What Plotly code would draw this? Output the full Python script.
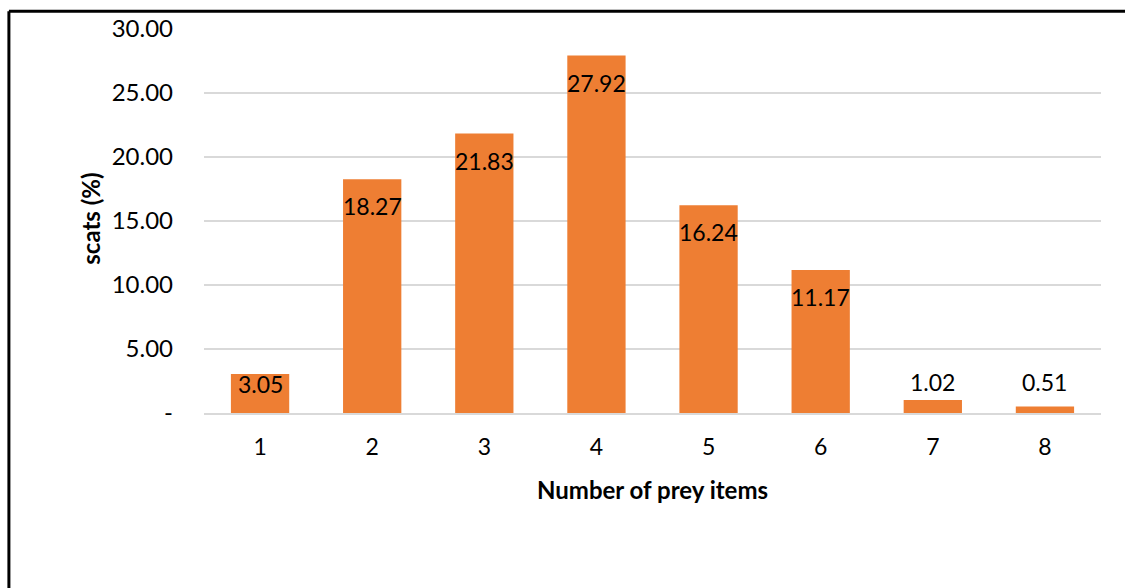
import plotly.graph_objects as go

# Share of scats by number of prey items found
prey_items = ["1", "2", "3", "4", "5", "6", "7", "8"]
scats_pct = [3.05, 18.27, 21.83, 27.92, 16.24, 11.17, 1.02, 0.51]
y_ticks = [0, 5, 10, 15, 20, 25, 30]
y_tick_labels = ["-", "5.00", "10.00", "15.00", "20.00", "25.00", "30.00"]

FONT = "Lato"
BAR = "#EE7E33"

fig = go.Figure(
    go.Bar(
        x=prey_items,
        y=scats_pct,
        marker=dict(color=BAR, line=dict(width=0)),
        hoverinfo="skip",
    )
)

# value labels: inside the top of tall bars, kept inside short bars,
# placed just above the very short ones
for i, val in enumerate(scats_pct):
    if val >= 5:
        anchor, shift = "top", -11
    elif val >= 2:
        anchor, shift = "top", 6
    else:
        anchor, shift = "bottom", 2 if val >= 1 else 8
    fig.add_annotation(
        x=i, y=val, xref="x", yref="y",
        text=f"{val:.2f}",
        showarrow=False,
        yanchor=anchor, yshift=shift,
        font=dict(family=FONT, size=23, color="#000000"),
    )

# axis titles
fig.add_annotation(
    x=-0.1275, y=0.505, xref="paper", yref="paper",
    xanchor="center", yanchor="middle",
    text="<b>scats (%)</b>", textangle=-90, showarrow=False,
    font=dict(family=FONT, size=24, color="#000000"),
)
fig.add_annotation(
    x=0.5, y=-0.198, xref="paper", yref="paper",
    xanchor="center", yanchor="middle",
    text="<b>Number of prey items</b>", showarrow=False,
    font=dict(family=FONT, size=24, color="#000000"),
)

# outer frame (left and top edges)
fig.add_shape(type="line", xref="paper", yref="paper",
              x0=-0.2175, x1=-0.2175, y0=-0.6, y1=1.046,
              line=dict(color="#000000", width=3))
fig.add_shape(type="line", xref="paper", yref="paper",
              x0=-0.2175, x1=1.1, y0=1.046, y1=1.046,
              line=dict(color="#000000", width=3))

fig.update_layout(
    width=1125, height=588,
    margin=dict(l=204, r=24, t=29, b=175),
    paper_bgcolor="#FFFFFF", plot_bgcolor="#FFFFFF",
    bargap=0.48,
    showlegend=False,
    font=dict(family=FONT, size=20, color="#000000"),
    xaxis=dict(
        type="category", range=[-0.5, 7.5],
        showgrid=False, showline=True, linecolor="#D9D9D9", linewidth=2,
        ticks="", ticklabelstandoff=12,
        tickfont=dict(family=FONT, size=23, color="#000000"),
    ),
    yaxis=dict(
        range=[0, 30], tickvals=y_ticks, ticktext=y_tick_labels,
        showgrid=True, gridcolor="#D9D9D9", gridwidth=1.5,
        zeroline=False, showline=False, ticks="",
        ticklabelstandoff=30,
        tickfont=dict(family=FONT, size=24, color="#000000"),
    ),
)

fig.write_html("out.html")
